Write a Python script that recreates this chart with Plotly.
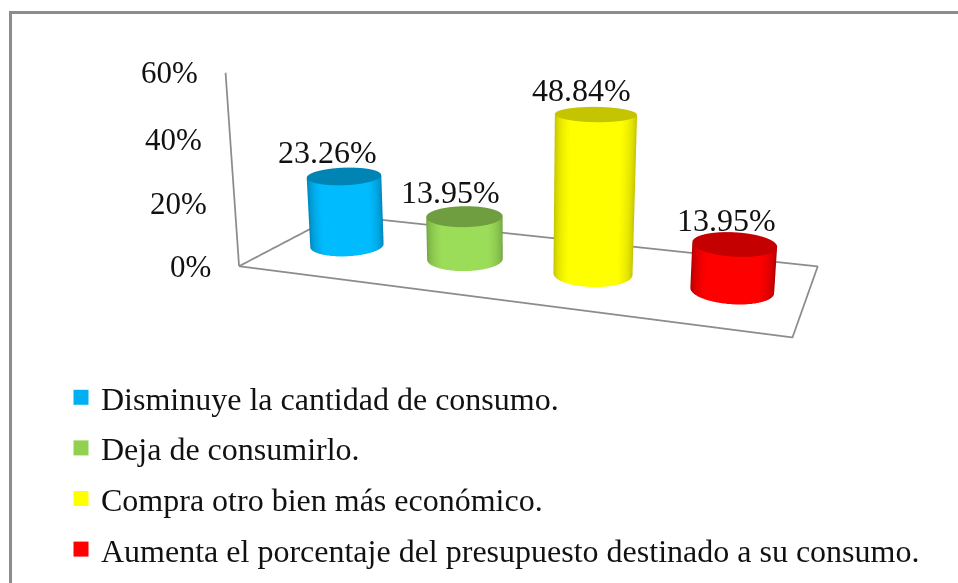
import numpy as np
import plotly.graph_objects as go

categories = [
    "Disminuye la cantidad de consumo.",
    "Deja de consumirlo.",
    "Compra otro bien más económico.",
    "Aumenta el porcentaje del presupuesto destinado a su consumo.",
]
values = [23.26, 13.95, 48.84, 13.95]
value_labels = ["23.26%", "13.95%", "48.84%", "13.95%"]
tick_values = [0, 20, 40, 60]
tick_labels = ["0%", "20%", "40%", "60%"]

# where each cylinder stands on the floor
bar_x = [0.5, 1.5, 2.5, 3.5]
bar_y = [0.5, 0.5, 0.5, 0.5]

bright = ["#00bcff", "#9bdc59", "#ffff00", "#ff0000"]
dark = ["#0078a8", "#68983a", "#b4b400", "#a00000"]
top = ["#0084b4", "#6e9e40", "#c4c400", "#c40000"]
legend_colors = ["#00b0f0", "#92d050", "#ffff00", "#ff0000"]
label_shift = [-17, -14, -14, -8]

FONT = "Liberation Serif"
GREY = "#8c8c8c"
TEXT = "#111111"

# The long lens of the original needs a scene taller than the window, so the page
# is built 934 px high and slid up by 258 px (see post_script at the bottom).
PAGE_H = 934
PAGE_TOP = 258

# camera and box proportions fitted to the picture
eye = [0.6637, -1.8581, 0.4788]
center = [0.3207, -0.9578, 0.2109]
up = [-0.0925, 0.2515, 0.9634]
aspect_x, aspect_y, aspect_z = 1, 0.3686, 0.3589
radius = 0.071


def paper_y(y):
    """Window pixel row to paper fraction"""
    return 1 - (y + PAGE_TOP) / PAGE_H


def cylinder(i):
    """Side wall and lid of one bar, as two surfaces"""
    # normalised box coordinates of the bar, used to turn the bright side to the eye
    nx = (bar_x[i] / 4 - 0.5) * aspect_x
    ny = (bar_y[i] - 0.5) * aspect_y
    facing = np.arctan2(eye[1] - ny, eye[0] - nx)

    t = np.linspace(0, 2 * np.pi, 145)
    sx = bar_x[i] + radius * np.cos(t) * 4 / aspect_x
    sy = bar_y[i] + radius * np.sin(t) / aspect_y
    flat = dict(ambient=1, diffuse=0, specular=0, fresnel=0, roughness=1)

    side = go.Surface(
        x=np.array([sx, sx]),
        y=np.array([sy, sy]),
        z=np.array([np.zeros_like(t), np.full_like(t, values[i])]),
        surfacecolor=np.array([np.cos(t - facing)] * 2),
        cmin=0, cmax=1,
        colorscale=[[0, dark[i]], [0.8, bright[i]], [1, bright[i]]],
        showscale=False, hoverinfo="skip", lighting=flat,
    )
    lid = go.Surface(
        x=np.array([np.full_like(t, bar_x[i]), sx]),
        y=np.array([np.full_like(t, bar_y[i]), sy]),
        z=np.full((2, t.size), values[i]),
        surfacecolor=np.zeros((2, t.size)),
        cmin=0, cmax=1,
        colorscale=[[0, top[i]], [1, top[i]]],
        showscale=False, hoverinfo="skip", lighting=flat,
    )
    return side, lid


fig = go.Figure()

for i in range(len(values)):
    for surface in cylinder(i):
        fig.add_trace(surface)
    # legend key, the point itself sits hidden inside the cylinder
    fig.add_trace(go.Scatter3d(
        x=[bar_x[i]], y=[bar_y[i]], z=[values[i] / 2],
        mode="markers", name=categories[i], legendgroup=str(i),
        marker=dict(symbol="square", size=15, color=legend_colors[i]),
        hoverinfo="skip",
    ))

# floor outline and value axis line
fig.add_trace(go.Scatter3d(
    x=[0, 4, 4, 0, 0], y=[0, 0, 1, 1, 0], z=[0, 0, 0, 0, 0],
    mode="lines", line=dict(color=GREY, width=3.5), showlegend=False, hoverinfo="skip",
))
fig.add_trace(go.Scatter3d(
    x=[0, 0], y=[0, 0], z=[0, 60],
    mode="lines", line=dict(color=GREY, width=3.5), showlegend=False, hoverinfo="skip",
))

annotations = []
for v, label in zip(tick_values, tick_labels):
    annotations.append(dict(
        x=0, y=0, z=v, text=label, showarrow=False, xanchor="right",
        xshift=-26, font=dict(family=FONT, size=31, color=TEXT),
    ))
for i in range(len(values)):
    annotations.append(dict(
        x=bar_x[i], y=bar_y[i], z=values[i], text=value_labels[i], showarrow=False,
        xshift=label_shift[i], yshift=24, font=dict(family=FONT, size=32, color=TEXT),
    ))

hidden = dict(
    showbackground=False, showgrid=False, zeroline=False, showline=False,
    showticklabels=False, ticks="", title="", showspikes=False,
)

fig.update_layout(
    width=958, height=PAGE_H,
    margin=dict(l=0, r=0, t=0, b=0),
    paper_bgcolor="white",
    scene=dict(
        domain=dict(x=[52 / 958, 1], y=[0, 1]),
        xaxis=dict(range=[0, 4], **hidden),
        yaxis=dict(range=[0, 1], **hidden),
        zaxis=dict(range=[0, 60], **hidden),
        aspectmode="manual",
        aspectratio=dict(x=aspect_x, y=aspect_y, z=aspect_z),
        camera=dict(
            eye=dict(x=eye[0], y=eye[1], z=eye[2]),
            center=dict(x=center[0], y=center[1], z=center[2]),
            up=dict(x=up[0], y=up[1], z=up[2]),
            projection=dict(type="perspective"),
        ),
        annotations=annotations,
    ),
    legend=dict(
        x=61 / 958, y=paper_y(370), xanchor="left", yanchor="top",
        font=dict(family=FONT, size=32, color=TEXT),
        tracegroupgap=6, bgcolor="rgba(0,0,0,0)", itemclick=False, itemdoubleclick=False,
    ),
    shapes=[dict(
        type="rect", xref="paper", yref="paper",
        x0=10.5 / 958, x1=1.02, y0=paper_y(700), y1=paper_y(12.5),
        line=dict(color=GREY, width=3),
    )],
)

fig.write_html(
    "out.html",
    config={"displayModeBar": False},
    post_script=(
        "document.documentElement.style.overflow='hidden';"
        "document.body.style.margin='0';"
        f"document.getElementById('{{plot_id}}').style.marginTop='-{PAGE_TOP}px';"
    ),
)
